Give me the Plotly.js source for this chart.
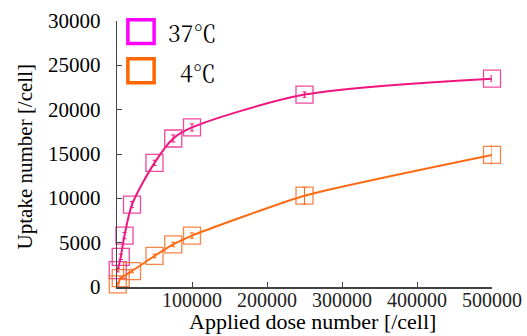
<!DOCTYPE html>
<html>
<head>
<meta charset="utf-8">
<script src="https://cdn.plot.ly/plotly-3.0.1.min.js"></script>
<style>html,body{margin:0;padding:0;background:#fff;}#chart{width:527px;height:336px;}</style>
</head>
<body>
<div id="chart"></div>
<script>
// Data
var seriesNames = ["37℃", "4℃"];
var dose37 = [1000, 5000, 10000, 20000, 50000, 75000, 100000, 250000, 500000];
var uptake37 = [1900, 3400, 5800, 9300, 14000, 16750, 18000, 21700, 23500];
var err37 = [200, 300, 350, 350, 300, 400, 400, 300, 300];
var dose4 = [1000, 5000, 20000, 50000, 75000, 100000, 250000, 500000];
var uptake4 = [300, 1000, 1800, 3500, 4800, 5800, 10300, 14900];
var err4 = [100, 150, 200, 200, 250, 300, 950, 1000];
var xTickVals = [100000, 200000, 300000, 400000, 500000];
var xTickText = ["100000", "200000", "300000", "400000", "500000"];
var yTickVals = [0, 5000, 10000, 15000, 20000, 25000, 30000];
var yTickText = ["0", "5000", "10000", "15000", "20000", "25000", "30000"];
var xTitle = "Applied dose number [/cell]";
var yTitle = "Uptake number [/cell]";

var serif = "Liberation Serif";
var mincho = "Noto Serif CJK JP";
var pink = "#F0147F", pinkMk = "rgba(236,40,140,0.85)";
var orange = "#FF6A10", orangeMk = "rgba(248,110,40,0.85)";

var traces = [
  {x: dose37, y: uptake37, name: seriesNames[0], type: "scatter", mode: "lines+markers",
   line: {color: pink, width: 2, shape: "spline", smoothing: 0.8},
   marker: {symbol: "square-open", size: 17, color: pinkMk, line: {width: 1.3, color: pinkMk}},
   error_y: {type: "data", array: err37, visible: true, color: pink, thickness: 1, width: 2},
   cliponaxis: false},
  {x: dose4, y: uptake4, name: seriesNames[1], type: "scatter", mode: "lines+markers",
   line: {color: orange, width: 2, shape: "spline", smoothing: 0.5},
   marker: {symbol: "square-open", size: 17, color: orangeMk, line: {width: 1.3, color: orangeMk}},
   error_y: {type: "data", array: err4, visible: true, color: orange, thickness: 1, width: 2},
   cliponaxis: false}
];

// Tick labels drawn as text annotations placed by the axes' own scales
var tickAnns = [];
xTickVals.forEach(function (v, i) {
  tickAnns.push({xref: "x", yref: "paper", x: v, y: -0.05, xanchor: "center", yanchor: "middle",
    text: xTickText[i], showarrow: false, font: {family: serif, size: 20, color: "#222"}});
});
yTickVals.forEach(function (v, i) {
  tickAnns.push({xref: "paper", yref: "y", x: -0.037, y: v, xanchor: "right", yanchor: "middle",
    text: yTickText[i], showarrow: false, font: {family: serif, size: 21, color: "#000"}});
});

var layout = {
  width: 527, height: 336,
  margin: {l: 117, r: 35, t: 21, b: 49, pad: 0},
  paper_bgcolor: "#fff", plot_bgcolor: "#fff",
  showlegend: false,
  font: {family: serif, color: "#000"},
  xaxis: {range: [0, 500000], tickvals: xTickVals, showticklabels: false,
    ticks: "inside", ticklen: 5, tickcolor: "#444", linecolor: "#444", linewidth: 1.5,
    showline: true, showgrid: false, zeroline: false},
  yaxis: {range: [0, 30000], tickvals: yTickVals, showticklabels: false,
    ticks: "inside", ticklen: 5, tickcolor: "#444", linecolor: "#444", linewidth: 1.5,
    showline: true, showgrid: false, zeroline: false},
  shapes: [
    {type: "rect", xref: "paper", yref: "paper", x0: 0.029, x1: 0.099, y0: 0.915, y1: 1.005,
     line: {color: "#FF00FF", width: 3.5}},
    {type: "rect", xref: "paper", yref: "paper", x0: 0.029, x1: 0.099, y0: 0.768, y1: 0.858,
     line: {color: "#FF6600", width: 3.5}}
  ],
  annotations: tickAnns.concat([
    {xref: "paper", yref: "paper", x: 0.269, y: 0.955, xanchor: "right", yanchor: "middle",
     text: seriesNames[0], showarrow: false, font: {family: mincho, size: 23, color: "#000"}},
    {xref: "paper", yref: "paper", x: 0.269, y: 0.805, xanchor: "right", yanchor: "middle",
     text: seriesNames[1], showarrow: false, font: {family: mincho, size: 23, color: "#000"}},
    {xref: "paper", yref: "paper", x: 0.52, y: -0.128, xanchor: "center", yanchor: "middle",
     text: xTitle, showarrow: false, font: {family: serif, size: 22, color: "#000"}},
    {xref: "paper", yref: "paper", x: -0.246, y: 0.49, xanchor: "center", yanchor: "middle",
     textangle: -90, text: yTitle, showarrow: false, font: {family: serif, size: 21, color: "#000"}}
  ])
};

Plotly.newPlot("chart", traces, layout, {staticPlot: true, displayModeBar: false});
</script>
</body>
</html>
